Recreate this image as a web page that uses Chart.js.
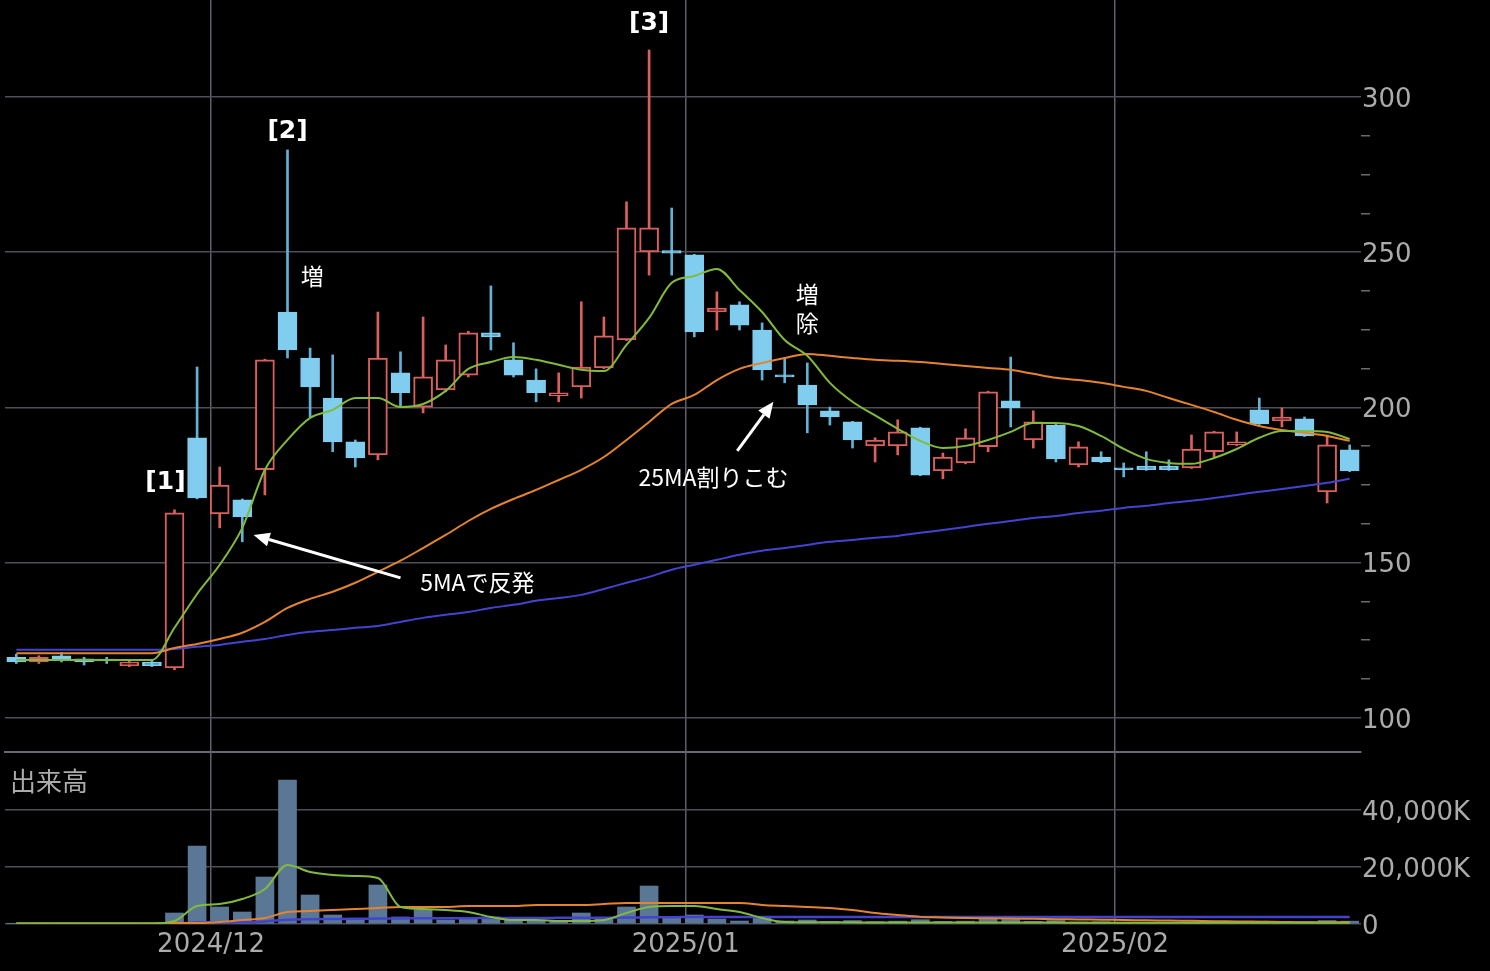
<!DOCTYPE html>
<html><head><meta charset="utf-8">
<script src="https://cdn.jsdelivr.net/npm/chart.js@4.4.1/dist/chart.umd.min.js"></script>
<style>
html,body{margin:0;padding:0;background:#000;width:1490px;height:971px;overflow:hidden;}
#price{position:absolute;left:0;top:0;}
#volume{position:absolute;left:0;top:752px;}
</style></head><body>
<canvas id="price" width="1490" height="753"></canvas>
<canvas id="volume" width="1490" height="219"></canvas>
<script>
// ---- data ----
const dates = [
 '2024/11/19','2024/11/20','2024/11/21','2024/11/22','2024/11/25','2024/11/26','2024/11/27','2024/11/28','2024/11/29',
 '2024/12/02','2024/12/03','2024/12/04','2024/12/05','2024/12/06','2024/12/09','2024/12/10','2024/12/11','2024/12/12','2024/12/13',
 '2024/12/16','2024/12/17','2024/12/18','2024/12/19','2024/12/20','2024/12/23','2024/12/24','2024/12/25','2024/12/26','2024/12/27','2024/12/30',
 '2025/01/06','2025/01/07','2025/01/08','2025/01/09','2025/01/10','2025/01/14','2025/01/15','2025/01/16','2025/01/17','2025/01/20',
 '2025/01/21','2025/01/22','2025/01/23','2025/01/24','2025/01/27','2025/01/28','2025/01/29','2025/01/30','2025/01/31',
 '2025/02/03','2025/02/04','2025/02/05','2025/02/06','2025/02/07','2025/02/10','2025/02/12','2025/02/13','2025/02/14','2025/02/17','2025/02/18'
];
const openP  = [119.5,118,120,119,118.5,116.8,118,116.1,190.2,165.7,170.2,179.9,230.7,215.9,203.0,188.9,184.7,211.1,200.1,205.6,210.4,224.0,215.3,208.8,203.7,206.6,212.7,221.7,250.1,250.5,249.1,230.7,233.0,224.9,210.4,207.2,198.9,195.3,187.6,187.6,193.4,179.5,182.1,187.3,202.1,189.5,194.3,181.5,184.0,180.5,181.1,181.1,180.5,185.7,187.9,199.2,195.6,196.3,172.8,186.3];
const closeP = [118,119.5,118.5,118,118.3,118,116.8,166,170.8,175.0,164.7,215.3,218.5,206.6,188.9,183.7,215.9,204.7,209.8,215.3,224.0,222.7,210.4,204.7,204.7,213.0,223.0,257.8,257.8,249.7,224.3,232.0,226.5,212.1,209.8,200.8,196.9,189.5,189.5,192.1,178.2,184.0,190.2,205.0,199.8,195.3,183.4,187.3,182.4,179.9,179.9,179.9,186.6,192.1,188.9,194.7,196.9,190.8,187.9,179.5];
const highP  = [120.5,120,121,119.5,119.5,118.5,118.5,167,213.0,180.8,170.5,215.5,282.9,219.1,216.9,189.5,230.7,217.9,229.1,220.1,224.5,239.1,220.8,212.4,211.1,234.0,229.1,266.2,315.1,264.2,249.3,237.2,234.0,227.2,215.9,214.3,200.1,195.5,190.2,196.0,193.6,185.3,193.1,205.2,216.2,198.9,194.5,188.9,185.7,182.1,185.7,183.1,191.1,192.3,192.1,203.0,199.8,196.9,191.1,187.9];
const lowP   = [117.5,117.5,118,117,117.5,116.5,116.5,115.5,170.5,161.2,156.7,171.8,215.9,196.9,185.7,180.8,183.1,200.1,198.2,205.0,209.8,218.5,209.8,201.8,201.8,203.0,212.5,221.5,242.6,242.6,222.7,224.9,224.9,208.8,207.9,191.8,194.3,186.9,182.4,184.7,178.0,177.0,181.8,185.7,193.7,186.9,182.4,180.8,182.2,177.6,179.7,179.7,180.3,184.0,187.7,194.5,193.7,190.6,169.2,179.3];
const ma5  = [118.6,118.6,118.6,118.6,118.6,118.6,118.6,129.0,139.9,149.3,161.2,179.9,189.5,196.6,199.2,203.0,203.0,200.1,201.1,205.3,212.4,214.6,216.2,215.3,213.7,212.1,211.7,220.1,228.8,240.1,242.3,244.6,237.8,230.7,221.7,216.6,207.9,201.8,197.4,193.1,189.2,186.9,187.6,189.5,192.1,195.0,195.0,194.0,190.8,186.6,183.4,182.1,181.8,183.7,186.6,190.2,192.4,192.4,192.1,189.8];
const ma25 = [120.8,120.8,120.8,120.8,120.8,120.8,120.8,122.5,123.8,125.4,127.4,130.9,135.4,138.3,140.6,143.5,147.0,150.6,154.7,158.9,163.4,167.3,170.5,173.4,176.6,179.9,184.0,189.5,195.3,201.1,204.0,208.8,212.4,214.3,215.9,217.2,216.6,215.9,215.3,215.0,214.6,214.0,213.3,212.7,212.1,210.8,209.5,208.8,207.9,206.6,205.3,203.0,200.8,198.5,196.0,194.0,192.7,191.8,190.8,189.2];
const ma75 = [121.9,121.9,121.9,121.9,121.9,121.9,121.9,122.2,122.9,123.5,124.5,125.4,126.7,127.7,128.3,129.0,129.6,130.9,132.2,133.2,134.1,135.4,136.4,137.7,138.6,139.6,141.5,143.5,145.4,147.7,149.3,150.9,152.5,153.8,154.7,155.7,156.7,157.3,158.0,158.6,159.6,160.5,161.5,162.5,163.4,164.4,165.0,166.0,166.7,167.6,168.3,169.2,169.9,170.8,171.8,172.8,173.7,174.7,175.7,177.0];
// volume in thousands of shares
const volume = [150,150,150,150,150,150,150,3860,27370,5970,4210,16490,50530,10180,3160,1400,13690,2460,4910,1400,2100,2460,2100,1400,1050,3860,1750,5970,13330,2460,3160,1750,1050,2100,1050,1400,900,1200,800,1000,1500,900,1000,1800,1600,900,1200,700,800,600,500,500,700,900,600,1000,700,800,1200,1000];
const volMa5  = [150,150,150,150,150,150,150,1050,6300,7000,8770,12280,20700,18250,17190,16840,16140,5970,5260,4910,4210,2460,1400,1400,1050,1050,1400,3860,5970,6300,6300,5260,4210,2100,700,600,600,600,500,500,500,500,500,500,500,500,500,400,400,400,400,400,400,400,400,400,400,400,400,400];
const volMa25 = [150,150,150,150,150,150,150,350,350,700,1400,2100,4210,4560,4910,5260,5610,5970,5970,5970,6300,6300,6300,6670,6670,6670,7000,7370,7370,7370,7370,7370,7370,6670,6300,5970,5610,4910,3860,3160,2500,2300,2100,2000,1900,1800,1700,1600,1500,1400,1300,1200,1100,1000,900,800,700,600,600,600];
const volMa75 = [100,100,100,100,100,100,100,150,500,600,650,900,1500,1700,1750,1800,1950,1950,2000,2050,2050,2100,2100,2100,2150,2150,2200,2250,2400,2400,2450,2450,2450,2450,2450,2450,2450,2450,2450,2450,2450,2450,2450,2450,2450,2450,2450,2450,2450,2450,2450,2450,2450,2450,2450,2450,2450,2450,2450,2450];
const priceTicks = [100,112.5,125,137.5,150,162.5,175,187.5,200,212.5,225,237.5,250,262.5,275,287.5,300];
const volumeTicks = [0,20000,40000];

// ---- derived ----
const idx = dates.map((d,i)=>i);
const monthStarts = [];
dates.forEach((d,i)=>{ if(i>0 && d.slice(0,7)!==dates[i-1].slice(0,7)) monthStarts.push(i); });
const monthLabels = monthStarts.map(i=>dates[i].slice(0,7));
const isUp = i => closeP[i] >= openP[i];

// ---- styles ----
const RED='#d9605c', CYAN='#80cdef', CYAN_WICK='#62b2d6';
const GREEN='#82bb3c', ORANGE='#e4842e', BLUE='#4343d0';
const GRID='#4f4f57', GRID_V='#5c606e', LABEL='#ababab';
const TICK_FONT={family:'DejaVu Sans', size:26};
const MONTH_OFFSET = -0.38;

function xScaleCfg(showLabels){
  return {
    type:'linear', min:-0.5, max:59.5, offset:false,
    afterBuildTicks: s => { s.ticks = monthStarts.map(i=>({value:i+MONTH_OFFSET})); },
    afterFit: s => { s.height = showLabels ? 47 : 1; s.paddingLeft=0; s.paddingRight=0; },
    grid:{color:GRID_V, lineWidth:1.5, drawTicks:false, offset:false},
    border:{display:!showLabels, color:'#666a72', width:2},
    ticks:{display:showLabels, color:LABEL, font:TICK_FONT, padding:6, maxRotation:0, autoSkip:false,
           callback:(v,k)=>monthLabels[k]}
  };
}

const annotations = [
  {text:'[3]', x:28, y:323.5, bold:true},
  {text:'[2]', x:12, y:289, bold:true},
  {text:'[1]', x:6.6, y:175.7, bold:true},
  {text:'増', x:13.1, y:242.3},
  {text:'増', x:35.0, y:236.5},
  {text:'除', x:35.0, y:227.2},
  {text:'25MA割りこむ', x:30.85, y:177.6},
  {text:'5MAで反発', x:20.4, y:143.8}
];
const arrows = [
  {from:[17.0,145.1], to:[10.5,158.9]},
  {from:[31.9,186.0], to:[33.5,201.8]}
];

const notePlugin = {
  id:'notes',
  afterDatasetsDraw(chart){
    const {ctx, scales:{x,y}} = chart;
    ctx.save();
    ctx.fillStyle='#fff'; ctx.textAlign='center'; ctx.textBaseline='middle';
    annotations.forEach(a=>{
      ctx.font = a.bold ? 'bold 25px "DejaVu Sans"' : '23px "Noto Sans CJK JP"';
      ctx.fillText(a.text, x.getPixelForValue(a.x), y.getPixelForValue(a.y));
    });
    ctx.strokeStyle='#fff'; ctx.lineWidth=3;
    arrows.forEach(a=>{
      const x1=x.getPixelForValue(a.from[0]), y1=y.getPixelForValue(a.from[1]);
      const x2=x.getPixelForValue(a.to[0]), y2=y.getPixelForValue(a.to[1]);
      const ang=Math.atan2(y2-y1,x2-x1), L=16, W=7;
      const bx=x2-L*Math.cos(ang), by=y2-L*Math.sin(ang);
      ctx.beginPath(); ctx.moveTo(x1,y1); ctx.lineTo(bx,by); ctx.stroke();
      ctx.beginPath(); ctx.moveTo(x2,y2);
      ctx.lineTo(bx+W*Math.sin(ang), by-W*Math.cos(ang));
      ctx.lineTo(bx-W*Math.sin(ang), by+W*Math.cos(ang));
      ctx.closePath(); ctx.fill();
    });
    ctx.restore();
  }
};

const lineDs = (data,color,w) => ({type:'line', data:idx.map(i=>({x:i,y:data[i]})), borderColor:color, borderWidth:w,
  pointRadius:0, fill:false, cubicInterpolationMode:'monotone', order:0});

new Chart(document.getElementById('price'), {
  type:'bar',
  data:{datasets:[
    lineDs(ma5,GREEN,2), lineDs(ma25,ORANGE,2), lineDs(ma75,BLUE,2),
    {type:'bar', order:1, grouped:false, barThickness:19, minBarLength:2, borderSkipped:false, borderWidth:2,
     data:idx.map(i=>({x:i,y:[openP[i],closeP[i]]})),
     backgroundColor:c=>isUp(c.dataIndex)?'#000':CYAN,
     borderColor:c=>isUp(c.dataIndex)?RED:CYAN},
    {type:'bar', order:2, grouped:false, barThickness:2, borderWidth:0,
     data:idx.map(i=>({x:i,y:[lowP[i],highP[i]]})),
     backgroundColor:c=>isUp(c.dataIndex)?RED:CYAN_WICK}
  ]},
  options:{
    responsive:false, animation:false, devicePixelRatio:1,
    layout:{padding:{left:5,right:0,top:0,bottom:0}},
    plugins:{legend:{display:false}, tooltip:{enabled:false}},
    scales:{
      x:xScaleCfg(false),
      y:{position:'right', min:89, max:331.2,
         afterBuildTicks: s => { s.ticks = priceTicks.map(v=>({value:v})); },
         afterFit: s => { s.width = 129; s.paddingTop=0; s.paddingBottom=0; },
         grid:{color:c=>(c.tick && c.tick.value%50===0)?GRID:'transparent',
               tickColor:c=>(c.tick && c.tick.value%50===0)?'transparent':'#6a6a6a',
               tickLength:9, lineWidth:1.5, drawTicks:true},
         border:{display:false},
         ticks:{color:LABEL, font:TICK_FONT, padding:-8, labelOffset:3, callback:v=>v%50===0?String(v):''}}
    }
  },
  plugins:[notePlugin]
});

const volLabelPlugin = {
  id:'volLabel',
  afterDraw(chart){
    const {ctx} = chart;
    ctx.save(); ctx.fillStyle=LABEL; ctx.font='26px "Noto Sans CJK JP"';
    ctx.textAlign='left'; ctx.textBaseline='middle';
    ctx.fillText('出来高', 10, 29);
    ctx.restore();
  }
};

new Chart(document.getElementById('volume'), {
  type:'bar',
  data:{datasets:[
    lineDs(volMa5,GREEN,2), lineDs(volMa25,ORANGE,2), lineDs(volMa75,BLUE,2.5),
    {type:'bar', order:1, grouped:false, barThickness:18, borderWidth:0,
     data:idx.map(i=>({x:i,y:volume[i]})), backgroundColor:'#5a7895'}
  ]},
  options:{
    responsive:false, animation:false, devicePixelRatio:1,
    layout:{padding:{left:5,right:0,top:0,bottom:0}},
    plugins:{legend:{display:false}, tooltip:{enabled:false}},
    scales:{
      x:xScaleCfg(true),
      y:{position:'right', min:0, max:60355,
         afterBuildTicks: s => { s.ticks = volumeTicks.map(v=>({value:v})); },
         afterFit: s => { s.width = 129; s.paddingTop=0; s.paddingBottom=0; },
         grid:{color:GRID, lineWidth:1.5, drawTicks:false},
         border:{display:false},
         ticks:{color:LABEL, font:TICK_FONT, padding:1, labelOffset:3,
                callback:v=>v===0?'0':v.toLocaleString('en-US')+'K'}}
    }
  },
  plugins:[volLabelPlugin]
});
</script>
</body></html>
